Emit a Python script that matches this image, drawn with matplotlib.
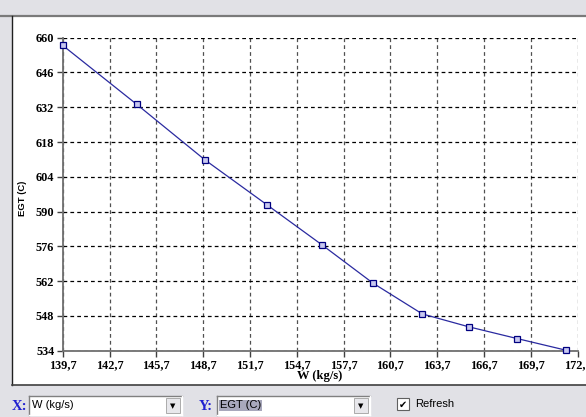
import matplotlib as mpl
mpl.use("Agg")
import matplotlib.pyplot as plt
from matplotlib.patches import Rectangle
from matplotlib.ticker import FixedLocator, FuncFormatter
import numpy as np

# W (kg/s) vs EGT (C) samples
w_flow = [139.7, 144.44, 148.82, 152.80, 156.30, 159.59, 162.75, 165.74, 168.82, 171.96]
egt = [656.9, 633.2, 610.8, 592.7, 576.7, 561.2, 548.8, 543.6, 538.9, 534.2]

x_ticks = [139.7 + 3 * i for i in range(12)]
y_ticks = [534 + 14 * i for i in range(10)]

x_name = "W (kg/s)"
y_name = "EGT (C)"

W, H = 586, 417
BG = "#e1e1e6"


def fx(px):
    return px / W


def fy(py):
    return 1 - py / H


def rect(fig, x0, y0, x1, y1, **kw):
    r = Rectangle((fx(x0), fy(y1)), fx(x1) - fx(x0), fy(y0) - fy(y1),
                  transform=fig.transFigure, **kw)
    fig.add_artist(r)
    return r


def line(fig, x0, y0, x1, y1, **kw):
    fig.add_artist(plt.Line2D([fx(x0), fx(x1)], [fy(y0), fy(y1)],
                              transform=fig.transFigure, **kw))


def combo(fig, x0, x1, y0, y1, text, highlight=False):
    rect(fig, x0, y0, x1, y1, facecolor="white", edgecolor="none")
    line(fig, x0, y0, x1, y0, color="#808080", lw=1)
    line(fig, x0, y0, x0, y1, color="#808080", lw=1)
    line(fig, x0, y1, x1, y1, color="#ffffff", lw=1)
    line(fig, x1, y0, x1, y1, color="#ffffff", lw=1)
    # dropdown button
    rect(fig, x1 - 16, y0 + 2, x1 - 2, y1 - 2, facecolor="#e8e8ec", edgecolor="#a0a0a0", lw=0.6)
    fig.text(fx(x1 - 9), fy((y0 + y1) / 2 + 1), "\u25bc", ha="center", va="center",
             fontsize=5, color="black", family="DejaVu Sans")
    t = fig.text(fx(x0 + 3), fy((y0 + y1) / 2), text, ha="left", va="center",
                 fontsize=8, family="Liberation Sans", color="black")
    if highlight:
        t.set_bbox(dict(facecolor="#a8a8bc", edgecolor="none", pad=0.6))


fig = plt.figure(figsize=(W / 100, H / 100), dpi=100, facecolor=BG)

# white chart panel with its frame
rect(fig, 12, 17, 590, 385, facecolor="white", edgecolor="none", zorder=0)
line(fig, 0, 16, 590, 16, color="#7a7a7a", lw=1.6)
line(fig, 11.5, 16, 11.5, 385, color="#202020", lw=1.0)
line(fig, 11.5, 385, 590, 385, color="#404040", lw=1.2)

ax = fig.add_axes([fx(62.7), fy(350.7), fx(577.5) - fx(62.7), fy(37.7) - fy(350.7)])
ax.set_facecolor("white")
ax.plot(w_flow, egt, color="#2a2aa0", lw=0.9, marker="s", markersize=3.8,
        markerfacecolor="#c8c8f0", markeredgecolor="#000080", markeredgewidth=0.9,
        zorder=5, clip_on=False)

ax.set_xlim(x_ticks[0], x_ticks[-1])
ax.set_ylim(y_ticks[0], y_ticks[-1])
ax.xaxis.set_major_locator(FixedLocator(x_ticks))
ax.yaxis.set_major_locator(FixedLocator(y_ticks))
comma = FuncFormatter(lambda v, p: f"{v:.1f}".replace(".", ","))
ax.xaxis.set_major_formatter(comma)
ax.yaxis.set_major_formatter(FuncFormatter(lambda v, p: f"{v:.0f}"))

ax.grid(True, axis="y", color="black", linestyle=(0, (3, 2.5)), lw=0.9)
ax.grid(True, axis="x", color="#505050", linestyle=(0, (3, 2.5)), lw=0.9)
for s in ("top", "right"):
    ax.spines[s].set_visible(False)
for s in ("left", "bottom"):
    ax.spines[s].set_color("#707070")
    ax.spines[s].set_linewidth(1.3)

ax.tick_params(direction="out", length=4, width=1, color="#404040", pad=2)
for lab in ax.get_xticklabels() + ax.get_yticklabels():
    lab.set_family("Liberation Serif")
    lab.set_fontweight("bold")
    lab.set_fontsize(8.8)

ax.set_xlabel(x_name, family="Liberation Serif", fontweight="bold", fontsize=9, labelpad=-1)
fig.text(fx(22), fy(198), y_name, rotation=90, ha="center", va="center",
         family="Liberation Sans", fontweight="bold", fontsize=6.8)

# selector controls along the bottom
fig.text(fx(12), fy(406), "X:", color="#2020d0", family="Liberation Serif",
         fontweight="bold", fontsize=10.5, ha="left", va="center")
combo(fig, 29, 182, 396, 415, x_name)
fig.text(fx(199), fy(406), "Y:", color="#2020d0", family="Liberation Serif",
         fontweight="bold", fontsize=10.5, ha="left", va="center")
combo(fig, 217, 370, 396, 415, y_name, highlight=True)

rect(fig, 397, 398, 409, 410, facecolor="white", edgecolor="#606060", lw=0.8)
fig.text(fx(403), fy(404.5), "\u2714", ha="center", va="center", fontsize=7,
         family="DejaVu Sans", color="black")
fig.text(fx(415), fy(404), "Refresh", ha="left", va="center", fontsize=8,
         family="Liberation Sans", color="black")

fig.savefig("out.png", dpi=100, facecolor=BG)
